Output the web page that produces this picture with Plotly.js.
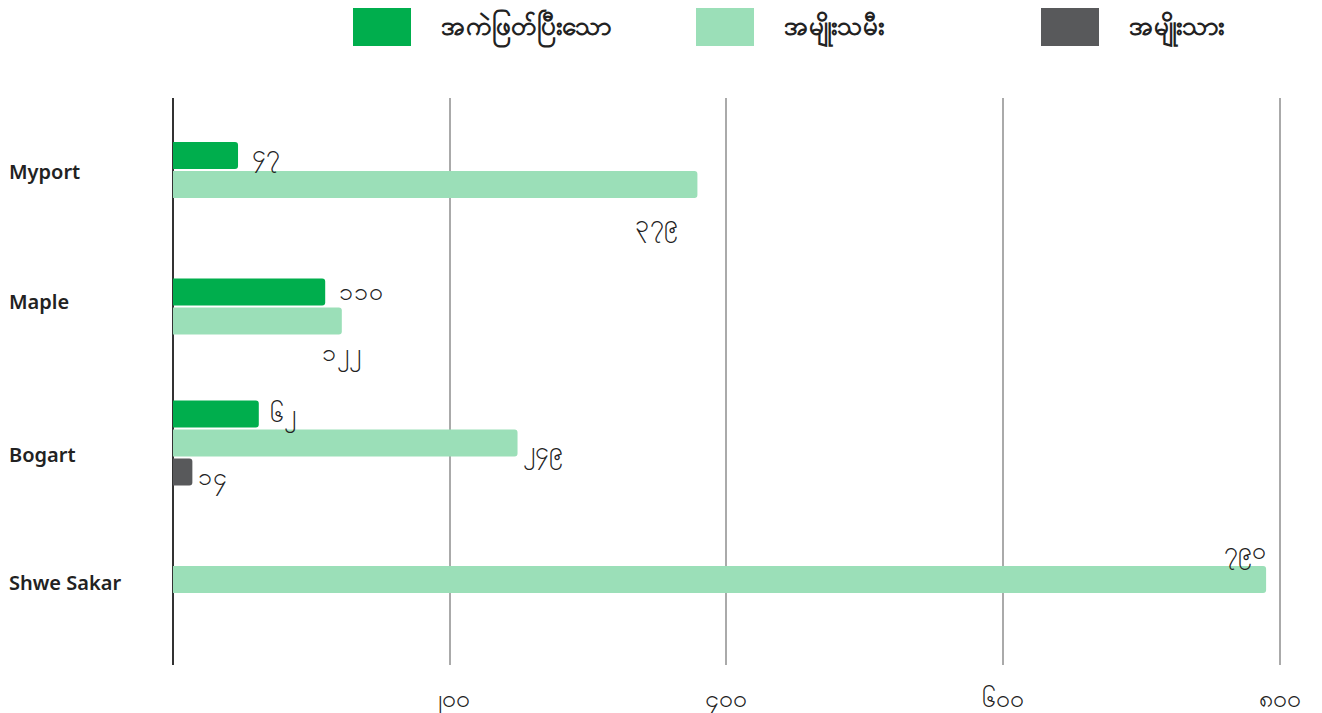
<!DOCTYPE html>
<html>
<head>
<meta charset="utf-8">
<script src="https://cdn.plot.ly/plotly-3.0.1.min.js"></script>
<style>
  html, body { margin: 0; padding: 0; background: #fff; }
  #chart { width: 1322px; height: 713px; }
</style>
</head>
<body>
<div id="chart"></div>
<script>
const categories = ['Myport', 'Maple', 'Bogart', 'Shwe Sakar'];
const seriesNames = ['အကဲဖြတ်ပြီးသော', 'အမျိုးသမီး', 'အမျိုးသား'];
const evaluated = [47, 110, 62, null];
const female = [379, 122, 249, 790];
const male = [null, null, 14, null];
const tickValues = [200, 400, 600, 800];

const seriesValues = [evaluated, female, male];
const colors = ['#00ae4d', '#9bdfb8', '#58595b'];

// label nudges in px, per series / category: [xanchor, xshift, yshift]
const labelNudge = [
    [['left', 12, 1], ['left', 12, 2], ['left', 9, 0], null],
    [['right', -17, -40], ['center', 0, -32], ['left', 3, -8], ['right', 2, 28]],
    [null, null, ['left', 4, -5], null]
];
// vertical nudge of the category names (px, up is positive)
const catLabelShift = [-2, 5, -12, -3];

const burmeseDigits = '၀၁၂၃၄၅၆၇၈၉';
const toBurmese = n => String(n).split('').map(c => burmeseDigits[+c]).join('');

// pixel geometry of the category axis
const pxPerCat = 136.5;
const barW = 27 / pxPerCat;
const pitch = 29 / pxPerCat;

// stack only the bars that exist in each category, centred on it
const offsets = seriesValues.map(() => categories.map(() => 0));
categories.forEach((c, ci) => {
    const present = seriesValues.map((s, si) => s[ci] != null ? si : -1).filter(si => si >= 0);
    const total = present.length * pitch - (pitch - barW);
    present.forEach((si, k) => {
        offsets[si][ci] = -total / 2 + k * pitch;
    });
});

const traces = seriesValues.map((vals, si) => ({
    type: 'bar',
    orientation: 'h',
    name: seriesNames[si],
    x: vals,
    y: categories,
    width: barW,
    offset: offsets[si],
    marker: { color: colors[si], cornerradius: 3 },
    hoverinfo: 'x+name',
    showlegend: false
}));

const digitFont = { family: 'Noto Sans, sans-serif', size: 25, color: '#222' };

const annotations = [];
seriesValues.forEach((vals, si) => {
    vals.forEach((v, ci) => {
        if (v == null) return;
        const n = labelNudge[si][ci];
        annotations.push({
            x: v,
            y: ci + offsets[si][ci] + barW / 2,
            xref: 'x', yref: 'y',
            text: toBurmese(v),
            showarrow: false,
            xanchor: n[0],
            yanchor: 'middle',
            xshift: n[1],
            yshift: n[2],
            font: digitFont
        });
    });
});

// category names, left aligned at the page edge
const plotLeft = 173, plotW = 1127, plotTop = 98, plotH = 567;
categories.forEach((c, ci) => {
    annotations.push({
        x: (7 - plotLeft) / plotW,
        y: ci,
        yshift: catLabelShift[ci],
        xref: 'paper', yref: 'y',
        text: c,
        showarrow: false,
        xanchor: 'left',
        yanchor: 'middle',
        font: { family: 'Noto Sans, sans-serif', size: 20, color: '#222', weight: 600 }
    });
});

// legend drawn as big swatches along the top
const shapes = [];
const legendX = [353, 696, 1041];
const px = x => (x - plotLeft) / plotW;
const py = y => (plotTop + plotH - y) / plotH;
seriesNames.forEach((name, si) => {
    shapes.push({
        type: 'rect', xref: 'paper', yref: 'paper',
        x0: px(legendX[si]), x1: px(legendX[si] + 58),
        y0: py(46), y1: py(8),
        fillcolor: colors[si], line: { width: 0 },
        layer: 'above'
    });
    annotations.push({
        x: px(legendX[si] + 86), y: py(28),
        xref: 'paper', yref: 'paper',
        text: name,
        showarrow: false,
        xanchor: 'left', yanchor: 'middle',
        font: { family: 'Noto Sans, sans-serif', size: 26, color: '#222', weight: 700 }
    });
});

const layout = {
    width: 1322,
    height: 713,
    margin: { l: plotLeft, r: 1322 - plotLeft - plotW, t: plotTop, b: 713 - plotTop - plotH },
    paper_bgcolor: '#fff',
    plot_bgcolor: '#fff',
    barmode: 'overlay',
    xaxis: {
        range: [0, 814.5],
        tickvals: tickValues,
        ticktext: tickValues.map(toBurmese),
        showgrid: true,
        gridcolor: '#aaaaaa',
        gridwidth: 2,
        zeroline: true,
        zerolinecolor: '#333',
        zerolinewidth: 2,
        showline: false,
        ticks: '',
        ticklabelstandoff: 16,
        tickfont: digitFont
    },
    yaxis: {
        type: 'category',
        range: [3.627, -0.527],
        showticklabels: false,
        showgrid: false,
        zeroline: false,
        showline: false,
        ticks: ''
    },
    shapes: shapes,
    annotations: annotations,
    showlegend: false
};

Plotly.newPlot('chart', traces, layout, { displayModeBar: false, staticPlot: true });
</script>
</body>
</html>
